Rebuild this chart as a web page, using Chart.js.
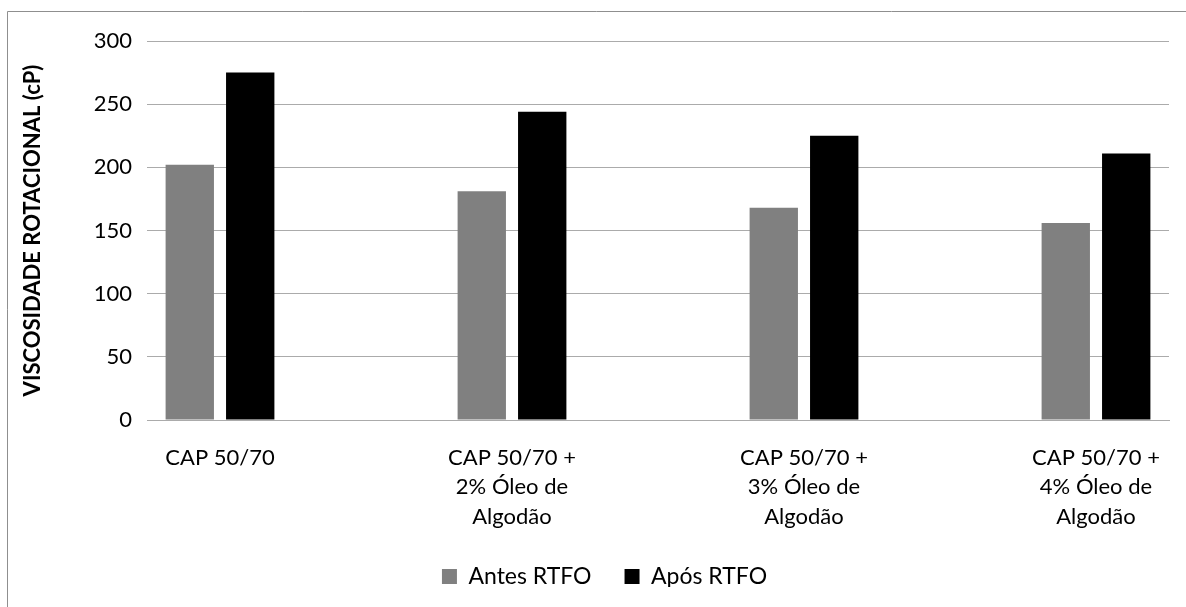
<!DOCTYPE html>
<html>
<head>
<meta charset="utf-8">
<script src="https://cdn.jsdelivr.net/npm/chart.js@4/dist/chart.umd.min.js"></script>
<style>
  html, body { margin: 0; padding: 0; background: #ffffff; }
  #wrap { position: relative; width: 1186px; height: 607px; }
</style>
</head>
<body>
<div id="wrap"><canvas id="chart" width="1186" height="607"></canvas></div>
<script>
// Samples (one tick label per group, split into lines)
const categories = [
  ['CAP 50/70'],
  ['CAP 50/70 +', '2% Óleo de', 'Algodão'],
  ['CAP 50/70 +', '3% Óleo de', 'Algodão'],
  ['CAP 50/70 +', '4% Óleo de', 'Algodão']
];
const seriesNames = ['Antes RTFO', 'Após RTFO'];
const antesRTFO = [202, 181, 168, 156];
const aposRTFO = [275, 244, 225, 211];
const yTicks = [0, 50, 100, 150, 200, 250, 300];

const FONT = 'Lato, "Open Sans", sans-serif';

// Light frame around the chart object
const framePlugin = {
  id: 'frame',
  beforeDraw(chart) {
    const ctx = chart.ctx;
    ctx.save();
    ctx.strokeStyle = '#8f8f8f';
    ctx.lineWidth = 1;
    ctx.beginPath();
    ctx.moveTo(7.5, chart.height);
    ctx.lineTo(7.5, 11.5);
    ctx.lineTo(chart.width, 11.5);
    ctx.stroke();
    ctx.restore();
  }
};

const toPoints = vals => vals.map((v, i) => ({ x: i, y: v }));

new Chart(document.getElementById('chart'), {
  type: 'bar',
  data: {
    datasets: [
      { label: seriesNames[0], data: toPoints(antesRTFO), backgroundColor: '#808080' },
      { label: seriesNames[1], data: toPoints(aposRTFO), backgroundColor: '#000000' }
    ]
  },
  options: {
    responsive: false,
    animation: false,
    devicePixelRatio: 1,
    categoryPercentage: 0.414,
    barPercentage: 0.80,
    layout: { padding: { left: 40, right: 17, top: 41, bottom: 20 } },
    plugins: {
      tooltip: { enabled: false },
      legend: {
        position: 'bottom',
        maxHeight: 55,
        labels: {
          boxWidth: 15,
          boxHeight: 15,
          padding: 33,
          color: '#000000',
          font: { family: FONT, size: 23 }
        }
      }
    },
    scales: {
      x: {
        type: 'linear',
        min: -0.25,
        max: 3.25,
        offset: false,
        grid: { display: false },
        border: { display: true, color: '#ababab', width: 1 },
        afterBuildTicks: scale => { scale.ticks = categories.map((c, i) => ({ value: i })); },
        afterFit: scale => { scale.height = 112; },
        ticks: {
          autoSkip: false,
          maxRotation: 0,
          padding: 15,
          color: '#000000',
          font: { family: FONT, size: 22, lineHeight: 1.34 },
          callback: v => categories[v]
        }
      },
      y: {
        min: 0,
        max: 300,
        afterBuildTicks: scale => { scale.ticks = yTicks.map(v => ({ value: v })); },
        afterFit: scale => { scale.width = 107; },
        grid: { color: '#ababab', lineWidth: 1, drawTicks: false },
        border: { display: false },
        ticks: {
          padding: 15,
          color: '#000000',
          font: { family: FONT, size: 22 }
        },
        title: {
          display: true,
          text: 'VISCOSIDADE ROTACIONAL (cP)',
          color: '#000000',
          padding: { top: -20, bottom: 0 },
          font: { family: FONT, size: 22, weight: 'bold', lineHeight: 1.2 }
        }
      }
    }
  },
  plugins: [framePlugin]
});
</script>
</body>
</html>
